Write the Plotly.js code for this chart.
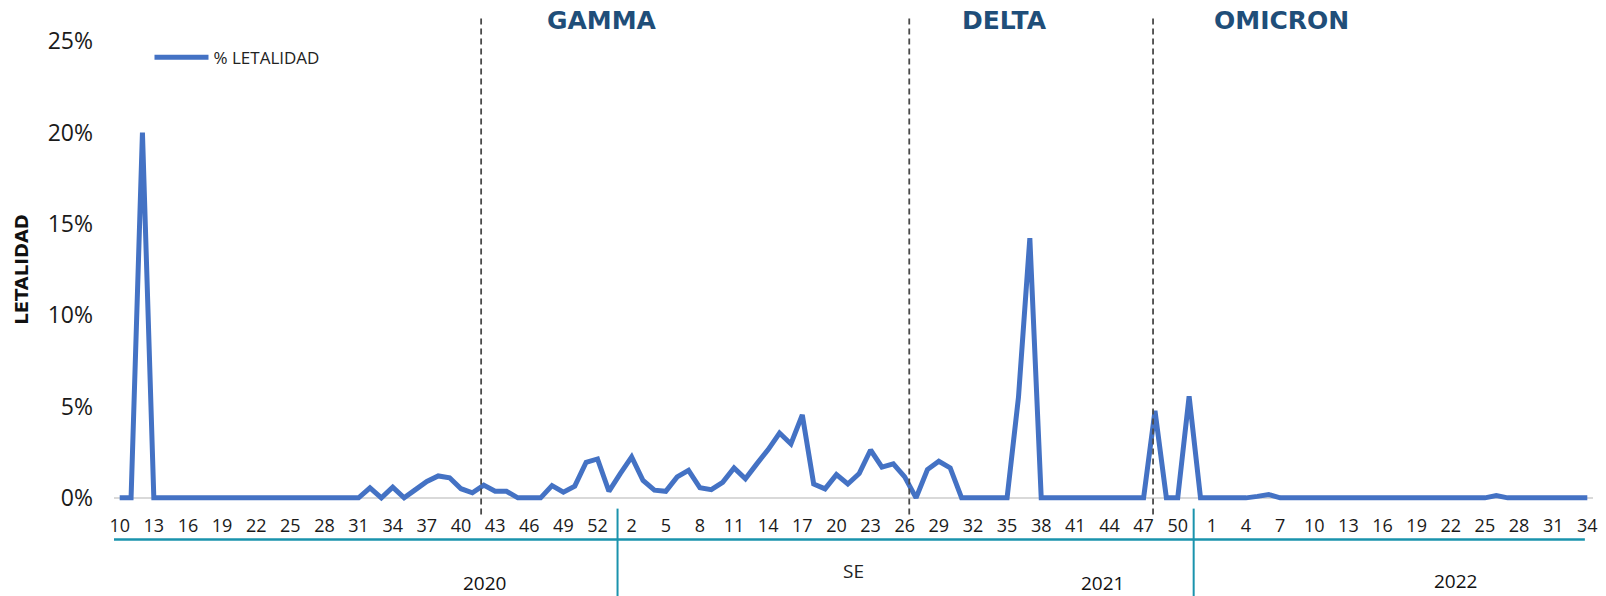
<!DOCTYPE html>
<html>
<head>
<meta charset="utf-8">
<script src="https://cdn.plot.ly/plotly-3.0.1.min.js"></script>
<style>html,body{margin:0;padding:0;background:#fff;}#chart{width:1606px;height:596px;}</style>
</head>
<body>
<div id="chart"></div>
<script>
// Epidemiological weeks (SE) per year
const weeks2020 = [10,11,12,13,14,15,16,17,18,19,20,21,22,23,24,25,26,27,28,29,30,31,32,33,34,35,36,37,38,39,40,41,42,43,44,45,46,47,48,49,50,51,52,53];
const weeks2021 = [1,2,3,4,5,6,7,8,9,10,11,12,13,14,15,16,17,18,19,20,21,22,23,24,25,26,27,28,29,30,31,32,33,34,35,36,37,38,39,40,41,42,43,44,45,46,47,48,49,50,51,52];
const weeks2022 = [1,2,3,4,5,6,7,8,9,10,11,12,13,14,15,16,17,18,19,20,21,22,23,24,25,26,27,28,29,30,31,32,33,34];

// % LETALIDAD per week
const letalidad2020 = [0,0,20.0,0, 0,0,0,0,0,0,0,0,0,0,0,0,0,0,0,0,0,0,
  0.55,0,0.58,0,0.45,0.9,1.2,1.1,0.5,0.28,0.7,0.36,0.36,0,0,0,0.67,0.31,0.64,1.95,2.13,0.36];
const letalidad2021 = [1.33,2.24,0.95,0.42,0.36,1.15,1.51,0.55,0.45,0.85,1.64,1.04,1.86,2.64,3.55,2.95,4.54,0.76,0.49,1.27,
  0.76,1.33,2.62,1.68,1.86,1.15,0,1.55,2.0,1.64,0,0,0,0,0,5.5,14.22,0,0,0,0,0,0,0,0,0,0,4.76,0,0,5.56,0];
const letalidad2022 = [0,0,0,0,0.08,0.18,0,0,0,0,0,0,0,0,0,0,0,0,0,0,0,0,0,0,0,0.13,0,0,0,0,0,0,0,0];

const years = ['2020','2021','2022'];
const variants = ['GAMMA','DELTA','OMICRON'];
const yTicks = [0,5,10,15,20,25];

// Build category list
const cats = [], vals = [], weekLabels = [];
[[years[0],weeks2020,letalidad2020],[years[1],weeks2021,letalidad2021],[years[2],weeks2022,letalidad2022]].forEach(([yr,wk,v])=>{
  wk.forEach((w,i)=>{cats.push(yr+' SE '+w); weekLabels.push(String(w)); vals.push(v[i]);});
});
const xIdx = cats.map((c,i)=>i);
const tickvals = xIdx.filter(i=>i%3===0);
const ticktext = tickvals.map(i=>weekLabels[i]);

// positions (category index units) of decorations
const variantLines = [31.77, 69.4, 90.83];
const variantLabelX = [42.35, 77.77, 102.08];
const yearSep = [43.76, 94.4];
const yearLabelX = [32.04, 86.41, 117.38];

const teal = '#1a93ad';
const shapes = [];
variantLines.forEach(x=>shapes.push({type:'line',xref:'x',yref:'paper',x0:x,x1:x,y0:-0.016,y1:1.029,
  line:{color:'#4a4a4a',width:1.8,dash:'6px,4px'}}));
shapes.push({type:'line',xref:'paper',yref:'paper',x0:0,x1:0.9945,y0:-0.0686,y1:-0.0686,line:{color:teal,width:2.5}});
yearSep.forEach(x=>shapes.push({type:'line',xref:'x',yref:'paper',x0:x,x1:x,y0:-0.0034,y1:-0.19,line:{color:teal,width:2}}));

const annotations = [];
variants.forEach((t,i)=>annotations.push({text:'<b>'+t+'</b>',x:variantLabelX[i],xref:'x',y:1.0236,yref:'paper',
  showarrow:false,xanchor:'center',yanchor:'middle',font:{family:'DejaVu Sans, sans-serif',size:25,color:'#1F4E79'}}));
const yearLabelY = [-0.161,-0.161,-0.156];
years.forEach((t,i)=>annotations.push({text:t,x:yearLabelX[i],xref:'x',y:yearLabelY[i],yref:'paper',
  showarrow:false,xanchor:'center',yanchor:'middle',font:{family:'Open Sans, sans-serif',size:19,color:'#111'}}));
annotations.push({text:'SE',x:64.47,xref:'x',y:-0.135,yref:'paper',showarrow:false,xanchor:'center',yanchor:'middle',
  font:{family:'Open Sans, sans-serif',size:19,color:'#222'}});

const trace = {
  type:'scatter', mode:'lines', name:'% LETALIDAD',
  x:xIdx, y:vals, text:cats, hovertemplate:'%{text}: %{y}%<extra></extra>',
  line:{color:'#4472C4',width:5,shape:'linear'}
};

const layout = {
  width:1606, height:596,
  margin:{l:114,r:13,t:32,b:89},
  paper_bgcolor:'#fff', plot_bgcolor:'#fff',
  font:{family:'Open Sans, sans-serif',color:'#222'},
  showlegend:true,
  legend:{x:0.024,y:0.946,xanchor:'left',yanchor:'middle',bgcolor:'rgba(0,0,0,0)',itemwidth:54,
    font:{family:'Open Sans, sans-serif',size:17,color:'#222'}},
  xaxis:{type:'linear',range:[-0.5,129.5],tickvals:tickvals,ticktext:ticktext,showgrid:false,zeroline:false,
    showline:false,ticks:'',ticklabelstandoff:6,tickangle:0,
    tickfont:{family:'Open Sans, sans-serif',size:18,color:'#1a1a1a'}},
  yaxis:{range:[-0.5,25.5],tickvals:yTicks,ticktext:yTicks.map(v=>v+'%'),showgrid:false,
    zeroline:true,zerolinecolor:'#D9D9D9',zerolinewidth:2,showline:false,ticks:'',ticklabelstandoff:20,
    tickfont:{family:'Open Sans, sans-serif',size:23,color:'#1a1a1a'},
    title:{text:'<b>LETALIDAD</b>',standoff:14,font:{family:'DejaVu Sans, sans-serif',size:18,color:'#111'}}},
  shapes:shapes, annotations:annotations
};

Plotly.newPlot('chart',[trace],layout,{displayModeBar:false});
</script>
</body>
</html>
